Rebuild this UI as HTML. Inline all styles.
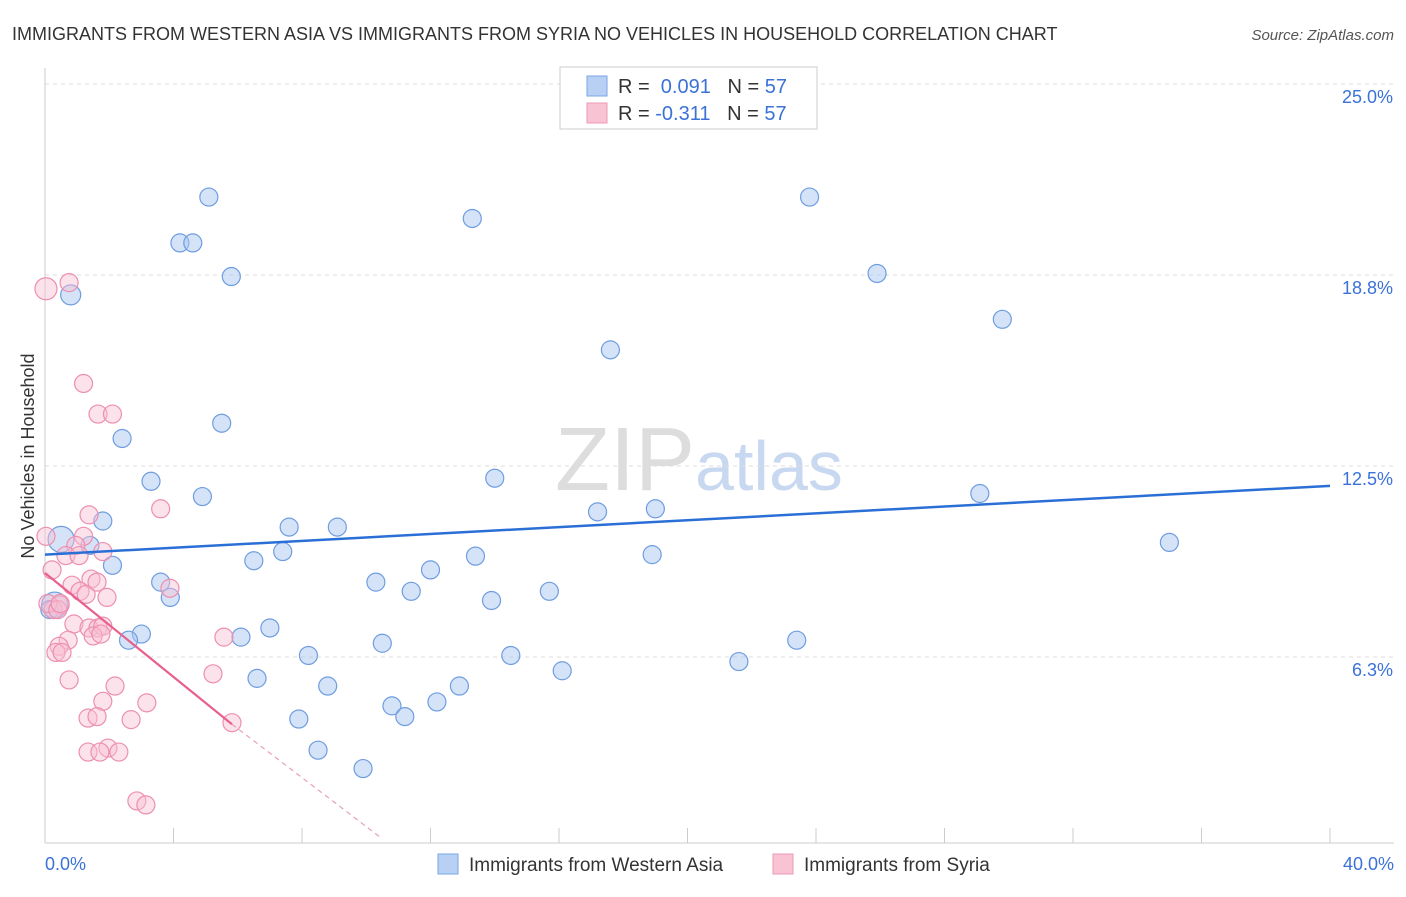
<!DOCTYPE html>
<html><head><meta charset="utf-8"><style>
body{margin:0;background:#fff;font-family:"Liberation Sans",sans-serif;}
svg text{font-family:"Liberation Sans",sans-serif;}
</style></head><body>
<svg id="chart" width="1406" height="892" xmlns="http://www.w3.org/2000/svg">
<text x="12" y="40" font-size="18" fill="#333">IMMIGRANTS FROM WESTERN ASIA VS IMMIGRANTS FROM SYRIA NO VEHICLES IN HOUSEHOLD CORRELATION CHART</text>
<text x="1394" y="40" font-size="15" fill="#555" text-anchor="end" font-style="italic">Source: ZipAtlas.com</text>
<text x="555" y="490" font-size="90" fill="#ddd" font-family="Liberation Serif">ZIP<tspan fill="#c8d8f0" font-family="Liberation Sans" font-size="70">atlas</tspan></text>
<g id="grid"></g><g id="axes"></g><g id="marks"></g>
<text transform="translate(34,456) rotate(-90)" font-size="18" fill="#333" text-anchor="middle">No Vehicles in Household</text>
<g>
<rect x="560" y="67" width="257" height="62" fill="#fff" stroke="#ccc"/>
<rect x="587" y="76" width="20" height="20" fill="#b8d0f4" stroke="#7aa6e6"/>
<text x="618" y="93" font-size="20" fill="#333">R = <tspan fill="#3a72d8">&#160;0.091</tspan>&#160;&#160;&#160;N = <tspan fill="#3a72d8">57</tspan></text>
<rect x="587" y="103" width="20" height="20" fill="#f8c4d4" stroke="#ee99b4"/>
<text x="618" y="120" font-size="20" fill="#333">R = <tspan fill="#3a72d8">-0.311</tspan>&#160;&#160;&#160;N = <tspan fill="#3a72d8">57</tspan></text>
</g>
<g>
<rect x="438" y="854" width="20" height="20" fill="#b8d0f4" stroke="#7aa6e6"/>
<text x="469" y="871" font-size="19" fill="#333">Immigrants from Western Asia</text>
<rect x="773" y="854" width="20" height="20" fill="#f8c4d4" stroke="#ee99b4"/>
<text x="804" y="871" font-size="19" fill="#333">Immigrants from Syria</text>
</g>
</svg>
<script>
const yTicks=[6.25,12.5,18.75,25];
const yTickLabels=["6.3%","12.5%","18.8%","25.0%"];
const xTickLabels=["0.0%","40.0%"];
const blueX=[5.1,4.2,4.6,5.8,0.8,13.3,23.8,25.9,29.8,17.6,5.5,2.4,3.3,4.9,14.0,29.1,1.8,7.6,9.1,17.2,19.0,35.0,0.5,1.4,2.1,6.5,7.4,13.4,18.9,3.6,3.9,10.3,12.0,11.4,13.9,15.7,0.3,3.0,2.6,6.1,7.0,10.5,23.4,8.2,14.5,21.6,16.1,6.6,8.8,12.9,12.2,10.8,11.2,7.9,8.5,9.9,0.15];
const blueY=[21.3,19.8,19.8,18.7,18.1,20.6,21.3,18.8,17.3,16.3,13.9,13.4,12.0,11.5,12.1,11.6,10.7,10.5,10.5,11.0,11.1,10.0,10.1,9.9,9.25,9.4,9.7,9.55,9.6,8.7,8.2,8.7,9.1,8.4,8.1,8.4,7.95,7.0,6.8,6.9,7.2,6.7,6.8,6.3,6.3,6.1,5.8,5.55,5.3,5.3,4.78,4.65,4.3,4.22,3.2,2.6,7.8];
const blueR=[9,9,9,9,10,9,9,9,9,9,9,9,9,9,9,9,9,9,9,9,9,9,13,9,9,9,9,9,9,9,9,9,9,9,9,9,13,9,9,9,9,9,9,9,9,9,9,9,9,9,9,9,9,9,9,9,9];
const pinkX=[0.03,0.75,1.2,1.65,2.1,3.6,1.37,0.03,1.2,0.96,0.65,1.06,1.8,0.22,1.43,0.84,1.09,1.28,1.62,1.93,0.47,0.25,3.89,0.9,1.37,1.65,1.8,1.5,1.74,5.57,0.72,0.44,0.34,0.53,0.75,5.23,2.18,1.8,3.17,1.34,1.62,2.68,5.82,1.96,2.3,1.34,1.71,2.86,3.14,0.09,0.4,0.47];
const pinkY=[18.3,18.5,15.2,14.2,14.2,11.1,10.9,10.2,10.2,9.9,9.57,9.57,9.7,9.1,8.8,8.6,8.4,8.3,8.7,8.2,7.95,7.8,8.5,7.33,7.2,7.2,7.26,6.94,7.0,6.9,6.8,6.6,6.4,6.4,5.5,5.7,5.3,4.8,4.75,4.25,4.3,4.2,4.1,3.27,3.14,3.14,3.14,1.54,1.41,8.0,7.8,8.0];
const pinkR=[11,9,9,9,9,9,9,9,9,9,9,9,9,9,9,9,9,9,9,9,9,9,9,9,9,9,9,9,9,9,9,9,9,9,9,9,9,9,9,9,9,9,9,9,9,9,9,9,9,9,9,9];
const blueTrend=[0,9.6,40,11.85];
const pinkTrend=[0,9.0,5.82,4.05,10.5,0.3];
const X=v=>45+v/40*1285;
const Y=v=>848-v*30.56;
const NS="http://www.w3.org/2000/svg";
function mk(p,t,a){const e=document.createElementNS(NS,t);for(const k in a)e.setAttribute(k,a[k]);p.appendChild(e);return e;}
const grid=document.getElementById('grid'),axes=document.getElementById('axes'),marks=document.getElementById('marks');
yTicks.forEach((t,i)=>{
 const l=mk(grid,'line',{x1:45,x2:1394,y1:Y(t),y2:Y(t),stroke:'#ddd','stroke-dasharray':'4,4'});
 
 
 const tx=mk(axes,'text',{x:1393,y:Y(t)+19,'font-size':18,fill:'#3a72d8','text-anchor':'end'});tx.textContent=yTickLabels[i];
 
 
});
const xa=mk(axes,'line',{x1:45,x2:1394,y1:843,y2:843,stroke:'#ccc'});


const ya=mk(axes,'line',{x1:45,x2:45,y1:68,y2:843,stroke:'#ccc'});


for(let i=0;i<=10;i++){const t=mk(axes,'line',{x1:X(i*4),x2:X(i*4),y1:828,y2:843,stroke:'#ccc'});
 
 }
[[0,'start',45],[1,'end',1394]].forEach(([i,a,x])=>{const t=mk(axes,'text',{x:x,y:870,'font-size':18,fill:'#3a72d8','text-anchor':a});t.textContent=xTickLabels[i];
 
 });
blueX.forEach((v,i)=>{const c=mk(marks,'circle',{cx:X(v),cy:Y(blueY[i]),r:blueR[i],fill:'rgba(170,200,240,0.5)',stroke:'#6f9de0','stroke-width':1.2});
 
 });
pinkX.forEach((v,i)=>{const c=mk(marks,'circle',{cx:X(v),cy:Y(pinkY[i]),r:pinkR[i],fill:'rgba(248,190,210,0.45)',stroke:'#ec8fb0','stroke-width':1.2});
 
 });
const bt=mk(marks,'line',{x1:X(blueTrend[0]),y1:Y(blueTrend[1]),x2:X(blueTrend[2]),y2:Y(blueTrend[3]),stroke:'#2a6fd6','stroke-width':2.5});


const pt=mk(marks,'line',{x1:X(pinkTrend[0]),y1:Y(pinkTrend[1]),x2:X(pinkTrend[2]),y2:Y(pinkTrend[3]),stroke:'#e8608e','stroke-width':2.2});


const pd=mk(marks,'line',{x1:X(pinkTrend[2]),y1:Y(pinkTrend[3]),x2:X(pinkTrend[4]),y2:Y(pinkTrend[5]),stroke:'#e8a0b8','stroke-width':1.2,'stroke-dasharray':'5,4'});


</script>
</body></html>
